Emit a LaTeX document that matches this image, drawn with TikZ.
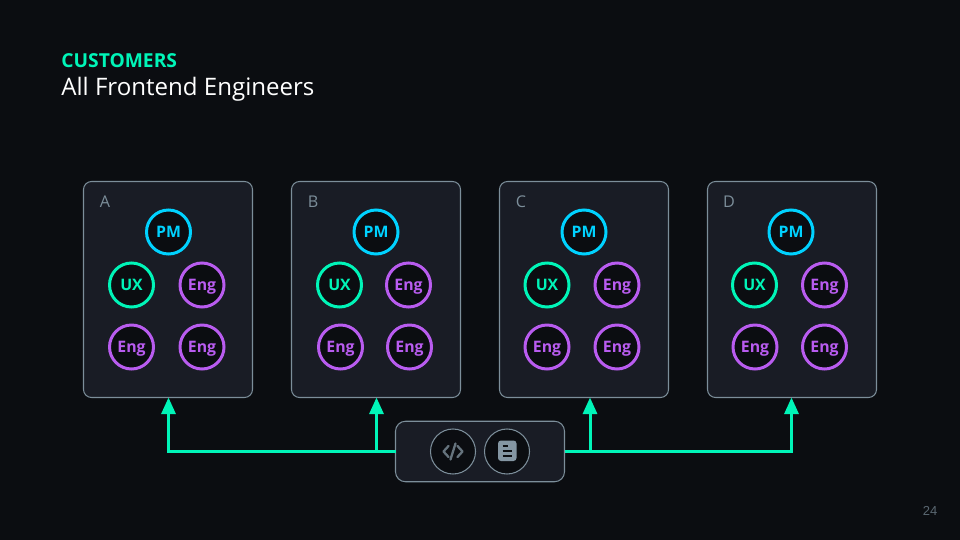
\documentclass[tikz,border=0pt]{standalone}
\usepackage{fontspec}
\setmainfont{Open Sans}
\newfontfamily\pagefont{Liberation Sans}
\usetikzlibrary{arrows.meta, positioning}
\definecolor{tlo}{HTML}{0B0D11}
\definecolor{panel}{HTML}{191C25}
\definecolor{ramka}{HTML}{7C8E9A}
\definecolor{mint}{HTML}{00F5B8}
\definecolor{cyjan}{HTML}{00D2FF}
\definecolor{fiolet}{HTML}{B95CF0}
\definecolor{ikona}{HTML}{8496A3}
\tikzset{
	team/.style={draw=ramka, fill=panel, line width=0.6pt, rounded corners=0.16cm, minimum width=3.38cm, minimum height=4.32cm, outer sep=0pt},
	teamname/.style={text=ramka, font=\fontsize{9.2}{11}\selectfont},
	person/.style={circle, fill=tlo, line width=1.7pt, inner sep=0pt, minimum size=0.88cm, text height=0.2cm, text depth=0pt, font=\fontsize{9}{10}\selectfont\bfseries},
	pm/.style={person, draw=cyjan, text=cyjan},
	ux/.style={person, draw=mint, text=mint},
	eng/.style={person, draw=fiolet, text=fiolet},
	tool/.style={circle, draw=ramka, fill=tlo, line width=0.6pt, inner sep=0pt, minimum size=0.9cm},
	link/.style={draw=mint, line width=1.7pt, -{Triangle[length=0.33cm, width=0.28cm]}}
}
\begin{document}
\begin{tikzpicture}
	\useasboundingbox[fill=tlo] (0,0) rectangle (19.2,-10.8);

	% Title
	\node[anchor=base west, inner sep=0pt, text=mint, font=\fontsize{10.95}{12}\selectfont\bfseries] (kicker) at (1.22,-1.35) {CUSTOMERS};
	\node[anchor=base west, inner sep=0pt, text=white, font=\fontsize{13.7}{16}\selectfont] (title) at (1.22,-1.92) {All Frontend Engineers};

	% Teams
	\node[team] (A) at (3.36,-5.79) {};
	\node[team] (B) at (7.52,-5.79) {};
	\node[team] (C) at (11.68,-5.79) {};
	\node[team] (D) at (15.84,-5.79) {};
	\node[teamname] (A_name) at (2.10,-4.03) {A};
	\node[teamname] (B_name) at (6.26,-4.03) {B};
	\node[teamname] (C_name) at (10.42,-4.03) {C};
	\node[teamname] (D_name) at (14.58,-4.03) {D};

	% Team A
	\node[pm] (A_pm) at (3.37,-4.64) {PM};
	\node[ux] (A_ux) at (2.63,-5.70) {UX};
	\node[eng] (A_e1) at (4.04,-5.70) {Eng};
	\node[eng] (A_e2) at (2.63,-6.94) {Eng};
	\node[eng] (A_e3) at (4.04,-6.94) {Eng};

	% Team B
	\node[pm] (B_pm) at (7.52,-4.64) {PM};
	\node[ux] (B_ux) at (6.79,-5.70) {UX};
	\node[eng] (B_e1) at (8.17,-5.70) {Eng};
	\node[eng] (B_e2) at (6.81,-6.94) {Eng};
	\node[eng] (B_e3) at (8.19,-6.94) {Eng};

	% Team C
	\node[pm] (C_pm) at (11.68,-4.64) {PM};
	\node[ux] (C_ux) at (10.94,-5.70) {UX};
	\node[eng] (C_e1) at (12.34,-5.70) {Eng};
	\node[eng] (C_e2) at (10.94,-6.94) {Eng};
	\node[eng] (C_e3) at (12.34,-6.94) {Eng};

	% Team D
	\node[pm] (D_pm) at (15.82,-4.64) {PM};
	\node[ux] (D_ux) at (15.09,-5.70) {UX};
	\node[eng] (D_e1) at (16.49,-5.70) {Eng};
	\node[eng] (D_e2) at (15.10,-6.94) {Eng};
	\node[eng] (D_e3) at (16.49,-6.94) {Eng};

	% Shared tools
	\node[draw=ramka, fill=panel, line width=0.6pt, rounded corners=0.2cm, minimum width=3.38cm, minimum height=1.21cm, outer sep=0pt] (tools) at (9.6,-9.03) {};
	\node[tool] (code) at (9.06,-9.03) {};
	\node[tool] (docs) at (10.14,-9.03) {};

	% Icons
	\draw[ikona!75!tlo, line width=1.3pt, line cap=round, line join=round] (8.97,-8.92) -- (8.87,-9.03) -- (8.97,-9.14);
	\draw[ikona!75!tlo, line width=1.3pt, line cap=round, line join=round] (9.15,-8.92) -- (9.25,-9.03) -- (9.15,-9.14);
	\draw[ikona!75!tlo, line width=1.3pt, line cap=round] (9.11,-8.87) -- (9.01,-9.19);
	\fill[ikona, rounded corners=0.06cm] (9.96,-8.81) rectangle (10.33,-9.22);
	\draw[tlo, line width=0.6pt] (10.05,-8.92) -- (10.15,-8.92);
	\draw[tlo, line width=0.6pt] (10.05,-9.02) -- (10.24,-9.02);
	\draw[tlo, line width=0.6pt] (10.05,-9.12) -- (10.24,-9.12);

	% Arrows
	\coordinate (C_tap) at (11.8,-9.03);
	\coordinate (A_tap) at ([xshift=0.01cm]A.south);
	\coordinate (B_tap) at ([xshift=0.01cm]B.south);
	\coordinate (D_tap) at ([xshift=-0.01cm]D.south);
	\draw[link] (tools.west) -| (A_tap);
	\draw[link] (tools.west -| B_tap) -- (B_tap);
	\draw[link] (tools.east) -| (D_tap);
	\draw[link] (C_tap) -- (C_tap |- C.south);

	% Page number
	\node[text=ramka!70!tlo, font=\pagefont\fontsize{7.4}{9}\selectfont] (page) at (18.6,-10.21) {24};
\end{tikzpicture}
\end{document}
